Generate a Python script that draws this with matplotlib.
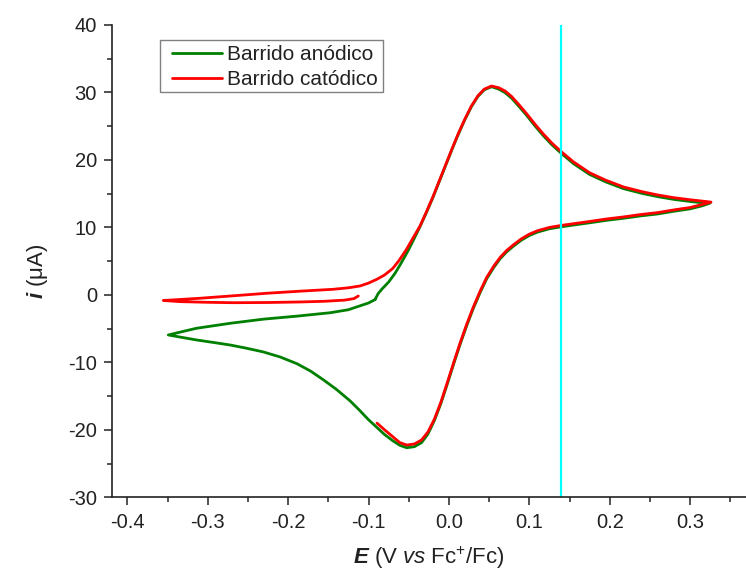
import matplotlib
matplotlib.use("Agg")
import matplotlib.pyplot as plt
from matplotlib.patches import Rectangle

# ---- data ----
# Anodic sweep (green): starts at the kink near -0.09 V, runs up to the anodic peak,
# out to the vertex, back through the cathodic peak, to -0.35 V and back to the start.
anodic_E = [-0.0919, -0.0880, -0.0830, -0.0750, -0.0670, -0.0590, -0.0510, -0.0430,
            -0.0360, -0.0280, -0.0200, -0.0120, -0.0040, 0.0040, 0.0120, 0.0200,
            0.0280, 0.0360, 0.0440, 0.0530, 0.0620, 0.0700, 0.0780, 0.0870, 0.0970,
            0.1070, 0.1170, 0.1280, 0.1400, 0.1550, 0.1750, 0.1950, 0.2170, 0.2400,
            0.2600, 0.2800, 0.3000, 0.3150, 0.3248,
            0.3150, 0.3000, 0.2800, 0.2600, 0.2380, 0.2170, 0.1960, 0.1760, 0.1580,
            0.1400, 0.1250, 0.1100, 0.1000, 0.0900, 0.0800, 0.0720, 0.0640, 0.0560,
            0.0470, 0.0390, 0.0300, 0.0220, 0.0140, 0.0060, -0.0020, -0.0100,
            -0.0180, -0.0260, -0.0340, -0.0430, -0.0525, -0.0610, -0.0700, -0.0800,
            -0.0900, -0.1000, -0.1120, -0.1230, -0.1400, -0.1560, -0.1720, -0.1890,
            -0.2100, -0.2310, -0.2520, -0.2720, -0.2930, -0.3140, -0.3320, -0.3490,
            -0.3300, -0.3140, -0.2720, -0.2310, -0.1890, -0.1480, -0.1250, -0.1100,
            -0.1000, -0.0919]
anodic_i = [-0.70, 0.20, 0.90, 1.90, 3.20, 4.80, 6.50, 8.40,
            10.1, 12.2, 14.4, 16.8, 19.2, 21.6, 23.9, 26.0,
            27.9, 29.4, 30.4, 30.85, 30.5, 29.95, 29.15, 27.95, 26.55,
            25.05, 23.65, 22.25, 20.95, 19.45, 17.85, 16.75, 15.75, 15.05,
            14.55, 14.15, 13.85, 13.65, 13.60,
            13.20, 12.75, 12.40, 12.00, 11.70, 11.35, 11.05, 10.70, 10.40,
            10.10, 9.80, 9.30, 8.80, 8.10, 7.20, 6.40, 5.40, 4.10,
            2.40, 0.40, -2.10, -4.60, -7.30, -10.2, -13.2, -16.1,
            -18.6, -20.6, -21.9, -22.5, -22.65, -22.3, -21.6, -20.7,
            -19.6, -18.5, -17.0, -15.7, -14.0, -12.6, -11.3, -10.2,
            -9.20, -8.45, -7.90, -7.43, -7.05, -6.68, -6.30, -5.94,
            -5.40, -4.95, -4.21, -3.60, -3.15, -2.65, -2.20, -1.60,
            -1.20, -0.70]

# Cathodic sweep (red): starts near -0.11 V, runs to -0.355 V, back up through the
# anodic peak to the vertex and ends after the cathodic peak near -0.09 V.
cathodic_E = [-0.1127, -0.1180, -0.1300, -0.1550, -0.1852, -0.2250, -0.2682, -0.3000,
              -0.3345, -0.3552, -0.3300, -0.3096, -0.2700, -0.2266, -0.1850, -0.1438,
              -0.1250, -0.1106, -0.1000, -0.0898, -0.0800, -0.0700, -0.0620, -0.0530,
              -0.0443, -0.0360, -0.0280, -0.0200, -0.0120, -0.0040, 0.0040, 0.0120,
              0.0200, 0.0280, 0.0360, 0.0440, 0.0530, 0.0620, 0.0700, 0.0780, 0.0870,
              0.0970, 0.1070, 0.1170, 0.1280, 0.1400, 0.1550, 0.1750, 0.1950, 0.2170,
              0.2400, 0.2600, 0.2800, 0.3000, 0.3150, 0.3260,
              0.3150, 0.3000, 0.2800, 0.2600, 0.2380, 0.2170, 0.1960, 0.1760, 0.1580,
              0.1400, 0.1250, 0.1100, 0.1000, 0.0900, 0.0800, 0.0720, 0.0640, 0.0560,
              0.0470, 0.0390, 0.0300, 0.0220, 0.0140, 0.0060, -0.0020, -0.0100,
              -0.0180, -0.0260, -0.0340, -0.0430, -0.0525, -0.0610, -0.0700, -0.0800,
              -0.0895]
cathodic_i = [-0.16, -0.55, -0.78, -0.95, -1.05, -1.13, -1.16, -1.10,
              -1.00, -0.83, -0.65, -0.50, -0.15, 0.24, 0.55, 0.83,
              1.05, 1.32, 1.75, 2.30, 2.95, 3.90, 5.10, 6.70,
              8.50, 10.2, 12.3, 14.5, 16.9, 19.3, 21.7, 24.0,
              26.1, 28.0, 29.5, 30.5, 30.96, 30.7, 30.2, 29.4, 28.2,
              26.8, 25.3, 23.9, 22.5, 21.2, 19.7, 18.1, 17.0, 16.0,
              15.3, 14.8, 14.4, 14.1, 13.9, 13.75,
              13.40, 12.95, 12.60, 12.20, 11.90, 11.55, 11.25, 10.90, 10.60,
              10.30, 10.00, 9.50, 9.00, 8.30, 7.40, 6.60, 5.60, 4.30,
              2.60, 0.60, -1.90, -4.40, -7.10, -10.0, -13.0, -15.9,
              -18.4, -20.3, -21.5, -22.1, -22.25, -21.9, -21.0, -20.0,
              -19.0]

cursor_E = 0.140

legend_labels = ["Barrido anódico", "Barrido catódico"]
x_ticks = [-0.4, -0.3, -0.2, -0.1, 0.0, 0.1, 0.2, 0.3]
y_ticks = [-30, -20, -10, 0, 10, 20, 30, 40]

# ---- style ----
plt.rcParams['font.family'] = ['Liberation Sans', 'DejaVu Sans']
plt.rcParams['axes.unicode_minus'] = False
plt.rcParams['mathtext.fontset'] = 'custom'
plt.rcParams['mathtext.rm'] = 'Liberation Sans'
plt.rcParams['mathtext.it'] = 'Liberation Sans:italic'
plt.rcParams['mathtext.bf'] = 'Liberation Sans:bold:italic'

fig = plt.figure(figsize=(7.46, 5.72), dpi=100)
ax = fig.add_axes([0.1505, 0.1306, 0.8495, 0.8257])

green = '#008000'
red = '#ff0000'
txt = '#222222'

ax.plot(anodic_E, anodic_i, color=green, lw=2.0, label=legend_labels[0],
        solid_joinstyle='round', solid_capstyle='round')
ax.plot(cathodic_E, cathodic_i, color=red, lw=2.0, label=legend_labels[1],
        solid_joinstyle='round', solid_capstyle='round')
ax.axvline(cursor_E, color='#00ffff', lw=1.6)

ax.set_xlim(-0.4187, 0.3695)
ax.set_ylim(-30, 40)
ax.set_xticks(x_ticks)
ax.set_xticklabels([f"{v:.1f}" for v in x_ticks])
ax.set_yticks(y_ticks)
ax.set_yticklabels([str(v) for v in y_ticks])
ax.set_xticks([v + 0.05 for v in x_ticks], minor=True)
ax.set_yticks([v + 5 for v in y_ticks[:-1]], minor=True)

for s in ['top', 'right']:
    ax.spines[s].set_visible(False)
for s in ['left', 'bottom']:
    ax.spines[s].set_linewidth(1.2)
    ax.spines[s].set_color(txt)

ax.tick_params(which='major', direction='out', length=6, width=1.1,
               labelsize=14.5, colors=txt, pad=5)
ax.tick_params(which='minor', direction='out', length=3.6, width=1.1, colors=txt)

ax.set_xlabel(r"$\mathbf{E}$ (V $\mathit{vs}$ Fc$^{+}$/Fc)", fontsize=16, color=txt, labelpad=9)
ax.set_ylabel(r"$\mathbf{i}$ (μA)", fontsize=16, color=txt)
ax.yaxis.set_label_coords(-0.098, 0.478)

# legend: entries without frame, plus a hand-sized frame box like the original
leg = ax.legend(loc='upper left', bbox_to_anchor=(0.0935, 0.958), borderaxespad=0,
                fontsize=15, frameon=False, handlelength=2.4,
                handletextpad=0.25, borderpad=0.0, labelspacing=0.3)
for t in leg.get_texts():
    t.set_color(txt)
ax.add_patch(Rectangle((0.0753, 0.8581), 0.3519, 0.1101, transform=ax.transAxes,
                       facecolor='white', edgecolor='#808080', lw=1.0, zorder=4))
leg.set_zorder(5)

fig.savefig("out.png", dpi=100)
